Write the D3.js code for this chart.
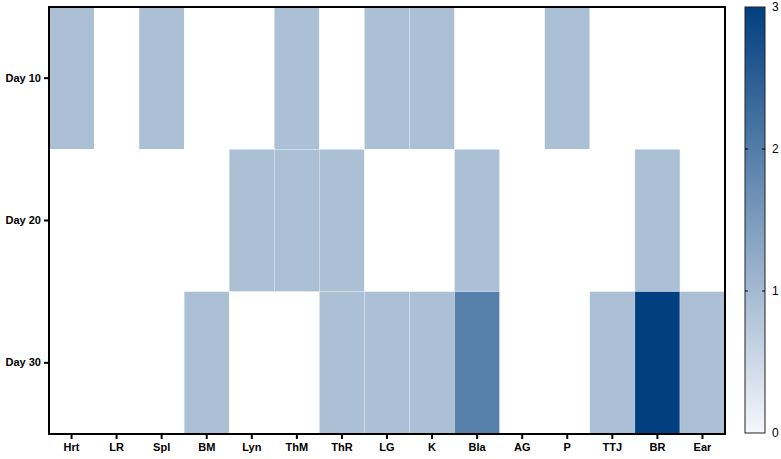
<!DOCTYPE html>
<html>
<head>
<meta charset="utf-8">
<script src="https://cdn.jsdelivr.net/npm/d3@7"></script>
<style>
  body { margin: 0; background: #fff; }
  text { font-family: "Liberation Sans", Arial, sans-serif; }
</style>
</head>
<body>
<div id="chart"></div>
<script>
// tissues along x, time points along y
var tissues = ["Hrt", "LR", "Spl", "BM", "Lyn", "ThM", "ThR", "LG", "K", "Bla", "AG", "P", "TTJ", "BR", "Ear"];
var days = ["Day 10", "Day 20", "Day 30"];
var day10 = [1, 0, 1, 0, 0, 1, 0, 1, 1, 0, 0, 1, 0, 0, 0];
var day20 = [0, 0, 0, 0, 1, 1, 1, 0, 0, 1, 0, 0, 0, 1, 0];
var day30 = [0, 0, 0, 1, 0, 0, 1, 1, 1, 2, 0, 0, 1, 3, 1];
var legendTicks = [0, 1, 2, 3];

var width = 781, height = 459;
var margin = {left: 49, top: 7, right: 56, bottom: 25};
var plotW = width - margin.left - margin.right,
    plotH = height - margin.top - margin.bottom;

var svg = d3.select("#chart").append("svg")
    .attr("width", width)
    .attr("height", height);

// flatten values into cells
var rows = [day10, day20, day30];
var cells = [];
rows.forEach(function (vals, r) {
    vals.forEach(function (v, c) {
        cells.push({day: days[r], tissue: tissues[c], value: v});
    });
});

var x = d3.scaleBand().domain(tissues).range([0, plotW]);
var y = d3.scaleBand().domain(days).range([0, plotH]);
var color = d3.scaleLinear().domain([0, 3]).range(["#ffffff", "#023f80"]);

var g = svg.append("g")
    .attr("transform", "translate(" + margin.left + "," + margin.top + ")");

g.selectAll(".cell")
    .data(cells)
    .enter()
    .append("rect")
    .attr("class", "cell")
    .attr("x", function (d) { return x(d.tissue); })
    .attr("y", function (d) { return y(d.day); })
    .attr("width", x.bandwidth())
    .attr("height", y.bandwidth())
    .attr("fill", function (d) { return color(d.value); })
    .attr("stroke", function (d) { return d.value > 0 ? "rgba(255,255,255,0.35)" : "none"; })
    .attr("stroke-width", 0.6);

// frame
g.append("rect")
    .attr("width", plotW)
    .attr("height", plotH)
    .attr("fill", "none")
    .attr("stroke", "#000")
    .attr("stroke-width", 2);

var xAxis = g.append("g")
    .attr("transform", "translate(0," + plotH + ")")
    .call(d3.axisBottom(x).tickSize(5).tickPadding(4));
var yAxis = g.append("g")
    .call(d3.axisLeft(y).tickSize(5).tickPadding(3));

[xAxis, yAxis].forEach(function (ax) {
    ax.select(".domain").remove();
    ax.selectAll(".tick line").attr("stroke", "#000").attr("stroke-width", 2);
    ax.selectAll(".tick text")
        .attr("fill", "#000")
        .style("font-size", "11px")
        .style("font-weight", "bold")
        .style("font-family", "'Liberation Sans', Arial, sans-serif");
});

// colour bar
var barX = 745, barW = 20;
var cy = d3.scaleLinear().domain([0, 3]).range([height - margin.bottom - 1, margin.top]);

var defs = svg.append("defs");
var grad = defs.append("linearGradient")
    .attr("id", "cbar")
    .attr("x1", 0).attr("y1", 1).attr("x2", 0).attr("y2", 0);
grad.append("stop").attr("offset", "0%").attr("stop-color", "#f5f7fb");
grad.append("stop").attr("offset", "100%").attr("stop-color", color(3));

svg.append("rect")
    .attr("x", barX)
    .attr("y", cy(3))
    .attr("width", barW)
    .attr("height", cy(0) - cy(3))
    .attr("fill", "url(#cbar)")
    .attr("stroke", "#222")
    .attr("stroke-width", 1);

var inner = legendTicks.filter(function (t) { return t > 0 && t < 3; });
svg.selectAll(".ctick-l")
    .data(inner)
    .enter()
    .append("line")
    .attr("x1", barX).attr("x2", barX + 3)
    .attr("y1", function (d) { return cy(d); })
    .attr("y2", function (d) { return cy(d); })
    .attr("stroke", "#000");
svg.selectAll(".ctick-r")
    .data(inner)
    .enter()
    .append("line")
    .attr("x1", barX + barW - 3).attr("x2", barX + barW)
    .attr("y1", function (d) { return cy(d); })
    .attr("y2", function (d) { return cy(d); })
    .attr("stroke", "#000");

svg.selectAll(".clabel")
    .data(legendTicks)
    .enter()
    .append("text")
    .attr("x", barX + barW + 7)
    .attr("y", function (d) { return cy(d); })
    .attr("dy", "0.35em")
    .style("font-size", "12px")
    .attr("fill", "#000")
    .text(function (d) { return d; });
</script>
</body>
</html>
